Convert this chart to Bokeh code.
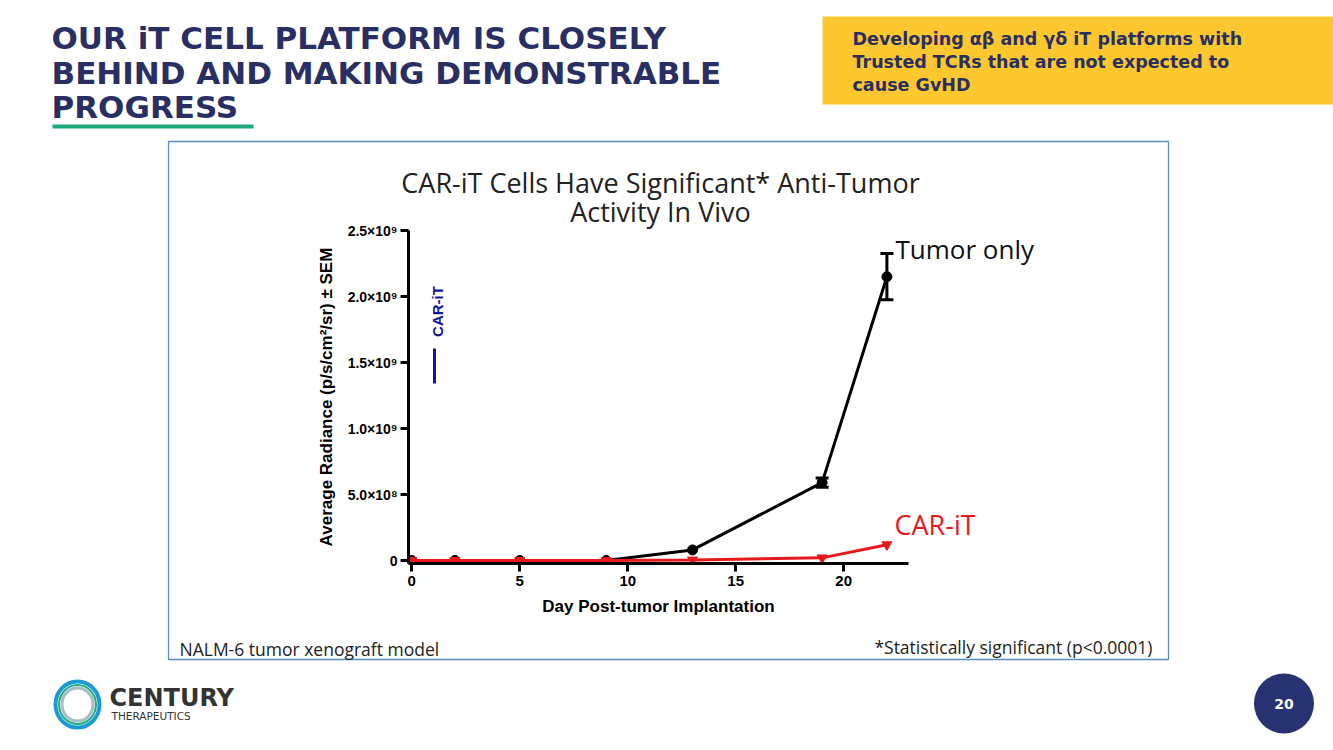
from bokeh.plotting import figure
from bokeh.models import (Label, Whisker, ColumnDataSource, FixedTicker,
                          CustomJSTickFormatter, Range1d, TeeHead)
from bokeh.embed import file_html
from bokeh.resources import INLINE

# ---------------- data ----------------
days = [0, 2, 5, 9, 13, 19, 22]
tumor_only = [0.0, 0.0, 0.0, 0.0, 0.08e9, 0.59e9, 2.15e9]
tumor_sem = [0.0, 0.0, 0.0, 0.0, 0.0, 0.035e9, 0.175e9]
car_it = [0.0, 0.0, 0.0, 0.0, 0.004e9, 0.02e9, 0.12e9]
x_ticks = [0, 5, 10, 15, 20]
y_ticks = [0, 5e8, 1e9, 1.5e9, 2e9, 2.5e9]
y_tick_labels = ["0", "5.0×10⁸", "1.0×10⁹", "1.5×10⁹", "2.0×10⁹", "2.5×10⁹"]

slide_title = ["OUR iT CELL PLATFORM IS CLOSELY", "BEHIND AND MAKING DEMONSTRABLE", "PROGRESS"]
callout = ["Developing αβ and γδ  iT platforms with", "Trusted TCRs that are not expected to", "cause GvHD"]
chart_title = ["CAR-iT Cells Have Significant* Anti-Tumor", "Activity In Vivo"]

# ---------------- layout constants ----------------
W, H = 1333, 750
NAVY = "#2a2f63"
RED = "#e8191c"
BLUE = "#14149a"

# ======== background slide figure (frame = whole canvas, pixel coords, y down) ========
bg = figure(width=W, height=H, output_backend="svg", toolbar_location=None,
            x_range=Range1d(0, W), y_range=Range1d(H, 0),
            x_axis_location=None, y_axis_location=None, min_border=0)
bg.outline_line_color = None
bg.grid.visible = False
bg.background_fill_color = "white"
bg.border_fill_color = "white"

bg.quad(left=822, right=1333, top=16, bottom=104, fill_color="#fdc72f", line_color=None)   # callout box
bg.quad(left=52, right=253, top=124, bottom=128, fill_color="#1aa97a", line_color=None)    # underline
bg.quad(left=168, right=1168, top=141, bottom=659, fill_color=None,
        line_color="#5a8ec0", line_width=1.3)                                               # chart frame
bg.ellipse(x=1283.5, y=703, width=60, height=60, fill_color="#273272", line_color=None)     # page badge
bg.ellipse(x=77, y=704, width=44, height=46, fill_color=None, line_color="#1d9ad6", line_width=4)
bg.ellipse(x=77, y=704, width=37, height=39, fill_color=None, line_color="#1cae82", line_width=2)
bg.ellipse(x=77, y=704, width=31, height=33, fill_color=None, line_color="#a8bcc4", line_width=3)
bg.quad(left=432.5, right=435.5, top=348, bottom=383, fill_color=BLUE, line_color=None)    # legend sample


def label(x, y, text, size, color, font="Open Sans", style="normal", align="left",
          baseline="middle", angle=0.0):
    bg.add_layout(Label(x=x, y=y, text=text,
                        text_font=font, text_font_size=size, text_font_style=style,
                        text_color=color, text_align=align, text_baseline=baseline, angle=angle))


for txt, yy in zip(slide_title, [37, 72, 106]):
    label(51, yy, txt, "31px", NAVY, font="DejaVu Sans", style="bold")

for txt, yy in zip(callout, [38, 61, 84]):
    label(852, yy, txt, "17.5px", NAVY, font="DejaVu Sans", style="bold")

for txt, yy in zip(chart_title, [182, 211]):
    label(660, yy, txt, "27px", "#222222", align="center")

label(895, 248, "Tumor only", "26px", "#111111")
label(894, 524, "CAR-iT", "27px", RED)
label(437, 311, "CAR-iT", "15px", BLUE, font="Liberation Sans", style="bold",
      align="center", angle=1.5708)

label(179, 648, "NALM-6 tumor xenograft model", "17.5px", "#222222")
label(1152, 646, "*Statistically significant (p<0.0001)", "17.5px", "#222222", align="right")

label(109, 697, "CENTURY", "24px", "#333333", font="DejaVu Sans", style="bold")
label(111, 715, "THERAPEUTICS", "10.5px", "#333333", font="DejaVu Sans")
label(1283.5, 703, "20", "14px", "white", font="DejaVu Sans", style="bold", align="center")

# ======== chart figure (overlaid, transparent) ========
p = figure(width=W, height=H, output_backend="svg", toolbar_location=None,
           x_range=Range1d(-0.15, 23.0), y_range=Range1d(-0.0227e9, 2.5e9),
           min_border_left=408, min_border_right=425, min_border_top=230, min_border_bottom=187)
p.outline_line_color = None
p.grid.visible = False
p.background_fill_color = None
p.border_fill_color = None
p.margin = (-H, 0, 0, 0)

for ax in (p.xaxis[0], p.yaxis[0]):
    ax.axis_line_width = 3
    ax.axis_line_color = "black"
    ax.major_tick_line_width = 3
    ax.major_tick_line_color = "black"
    ax.major_tick_out = 8
    ax.major_tick_in = 0
    ax.minor_tick_out = 0
    ax.minor_tick_in = 0
    ax.major_label_text_font = "Liberation Sans"
    ax.major_label_text_font_style = "bold"
    ax.major_label_text_color = "black"
    ax.axis_label_text_font = "Liberation Sans"
    ax.axis_label_text_font_style = "bold"
    ax.axis_label_text_color = "black"
    ax.axis_label_text_font_size = "17px"

p.xaxis.ticker = FixedTicker(ticks=x_ticks)
p.xaxis.major_label_text_font_size = "15px"
p.xaxis.major_label_standoff = 4
p.xaxis.axis_label = "Day Post-tumor Implantation"
p.xaxis.axis_label_standoff = 8

p.yaxis.ticker = FixedTicker(ticks=y_ticks)
p.yaxis.formatter = CustomJSTickFormatter(args=dict(tick_vals=y_ticks, tick_texts=y_tick_labels), code="""
for (let i = 0; i < tick_vals.length; i++) {
  if (Math.abs(tick_vals[i] - tick) < 1e3) return tick_texts[i];
}
return "";
""")
p.yaxis.major_label_text_font_size = "14px"
p.yaxis.major_label_standoff = 3
p.yaxis.axis_label = "Average Radiance (p/s/cm²/sr) ± SEM"
p.yaxis.axis_label_standoff = 9

p.line(days, tumor_only, line_width=3, line_color="black")
p.scatter(days, tumor_only, marker="circle", size=10, color="black")

w_days = [d for d, s in zip(days, tumor_sem) if s > 0]
w_up = [v + s for v, s in zip(tumor_only, tumor_sem) if s > 0]
w_lo = [v - s for v, s in zip(tumor_only, tumor_sem) if s > 0]
wsrc = ColumnDataSource(dict(base=w_days, upper=w_up, lower=w_lo))
p.add_layout(Whisker(source=wsrc, base="base", upper="upper", lower="lower", dimension="height",
                     line_width=3, line_color="black",
                     upper_head=TeeHead(size=13, line_width=3, line_color="black"),
                     lower_head=TeeHead(size=13, line_width=3, line_color="black")))

p.line(days, car_it, line_width=3, line_color=RED)
p.scatter(days, car_it, marker="inverted_triangle", size=10, color=RED)

open("out.html", "w").write(file_html([bg, p], INLINE))
